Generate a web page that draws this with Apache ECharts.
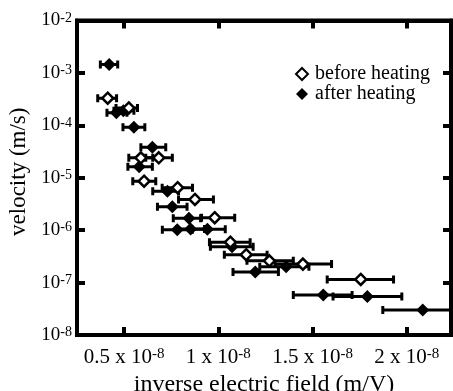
<!DOCTYPE html>
<html><head><meta charset="utf-8">
<script src="https://cdn.jsdelivr.net/npm/echarts@6/dist/echarts.min.js"></script>
<style>html,body{margin:0;padding:0;background:#fff}#c{width:453px;height:391px}</style>
</head><body><div id="c"></div>
<script>
// inverse electric field in units of 1e-8 m/V
const xTickValues = [0.5, 1, 1.5, 2];
const xTickLabels = ['0.5', '1', '1.5', '2'];
const xTickExponent = '-8';
const yTickValues = [1e-2, 1e-3, 1e-4, 1e-5, 1e-6, 1e-7, 1e-8];
const yTickExponents = ['-2', '-3', '-4', '-5', '-6', '-7', '-8'];

// before heating (open diamonds)
const beforeX   = [0.413, 0.525, 0.589, 0.684, 0.606, 0.784, 0.876, 0.981, 1.064, 1.148, 1.271, 1.449, 1.756];
const beforeV   = [3.3e-4, 2.15e-4, 2.4e-5, 2.4e-5, 8.6e-6, 6.45e-6, 3.85e-6, 1.73e-6, 5.9e-7, 3.41e-7, 2.6e-7, 2.25e-7, 1.15e-7];
const beforeXLo = [0.360, 0.457, 0.525, 0.615, 0.546, 0.702, 0.789, 0.911, 0.953, 1.032, 1.152, 1.301, 1.578];
const beforeXHi = [0.460, 0.571, 0.652, 0.756, 0.668, 0.863, 0.974, 1.087, 1.169, 1.259, 1.398, 1.601, 1.930];

// after heating (filled diamonds)
const afterX   = [0.421, 0.459, 0.496, 0.552, 0.650, 0.580, 0.730, 0.756, 0.844, 0.782, 0.853, 0.942, 1.073, 1.196, 1.360, 1.557, 1.791, 2.085];
const afterV   = [1.45e-3, 1.73e-4, 1.89e-4, 9.2e-5, 3.8e-5, 1.62e-5, 5.5e-6, 2.8e-6, 1.69e-6, 1.02e-6, 1.05e-6, 1.04e-6, 4.8e-7, 1.6e-7, 2.0e-7, 5.8e-8, 5.4e-8, 3.0e-8];
const afterXLo = [0.374, 0.409, 0.446, 0.494, 0.589, 0.520, 0.652, 0.677, 0.761, 0.703, 0.779, 0.853, 0.958, 1.078, 1.220, 1.398, 1.609, 1.873];
const afterXHi = [0.466, 0.515, 0.552, 0.610, 0.721, 0.650, 0.789, 0.834, 0.906, 0.862, 0.927, 1.037, 1.185, 1.319, 1.481, 1.710, 1.974, 2.300];

const FONT = 'Liberation Serif';
const chart = echarts.init(document.getElementById('c'), null, {renderer: 'canvas'});

function errRender(params, api) {
  const y = api.value(2);
  const p1 = api.coord([api.value(0), y]);
  const p2 = api.coord([api.value(1), y]);
  const h = 4;
  const style = {stroke: '#000', lineWidth: 3, fill: null};
  return {
    type: 'group',
    children: [
      {type: 'line', shape: {x1: p1[0], y1: p1[1], x2: p2[0], y2: p2[1]}, style: style},
      {type: 'line', shape: {x1: p1[0], y1: p1[1] - h, x2: p1[0], y2: p1[1] + h}, style: style},
      {type: 'line', shape: {x1: p2[0], y1: p2[1] - h, x2: p2[0], y2: p2[1] + h}, style: style}
    ]
  };
}

function axLine() { return {show: true, lineStyle: {color: '#000', width: 4, opacity: 1}}; }
function axTick(vals) { return {show: true, inside: true, length: 8, customValues: vals, lineStyle: {color: '#000', width: 4, opacity: 1}}; }

const option = {
  animation: false,
  backgroundColor: '#fff',
  grid: {left: 77, right: 2, top: 20.5, bottom: 56, containLabel: false, outerBoundsMode: 'none',
         show: true, borderColor: '#000', borderWidth: 4, backgroundColor: 'transparent'},
  legend: {
    orient: 'vertical', left: 290, top: 59, itemWidth: 12, itemHeight: 12, itemGap: 0,
    textStyle: {fontFamily: FONT, fontSize: 20, color: '#000', padding: [0, 0, 0, 2], lineHeight: 20},
    data: ['before heating', 'after heating']
  },
  xAxis: [{
    type: 'value', position: 'bottom', min: 0.25, max: 2.235,
    axisLine: axLine(),
    axisTick: axTick(xTickValues),
    axisLabel: {
      customValues: xTickValues, margin: 12,
      formatter: function (v) {
        const i = xTickValues.indexOf(v);
        return '{b|' + xTickLabels[i] + ' x 10}{s|' + xTickExponent + '}';
      },
      rich: {
        b: {fontFamily: FONT, fontSize: 21, color: '#000'},
        s: {fontFamily: FONT, fontSize: 15, color: '#000', verticalAlign: 'top'}
      }
    },
    splitLine: {show: false},
    name: 'inverse electric field (m/V)', nameLocation: 'middle', nameGap: 29,
    nameTextStyle: {fontFamily: FONT, fontSize: 24, color: '#000'}
  }, {
    type: 'value', position: 'top', min: 0.25, max: 2.235,
    axisLine: axLine(),
    axisTick: axTick(xTickValues),
    axisLabel: {show: false},
    splitLine: {show: false}
  }],
  yAxis: [{
    type: 'log', logBase: 10, position: 'left', min: 1e-8, max: 1e-2,
    axisLine: axLine(),
    axisTick: axTick(yTickValues),
    axisLabel: {
      customValues: yTickValues, margin: 5,
      formatter: function (v) {
        const e = Math.round(Math.log10(v));
        const i = yTickValues.findIndex(t => Math.round(Math.log10(t)) === e);
        return '{b|10}{s|' + yTickExponents[i] + '}';
      },
      rich: {
        b: {fontFamily: FONT, fontSize: 19, color: '#000'},
        s: {fontFamily: FONT, fontSize: 14, color: '#000', verticalAlign: 'top'}
      }
    },
    splitLine: {show: false},
    name: 'velocity (m/s)', nameLocation: 'middle', nameGap: 46,
    nameTextStyle: {fontFamily: FONT, fontSize: 23, color: '#000', padding: [0, 0, 0, 12]}
  }, {
    type: 'log', logBase: 10, position: 'right', min: 1e-8, max: 1e-2,
    axisLine: axLine(),
    axisTick: axTick(yTickValues),
    axisLabel: {show: false},
    splitLine: {show: false}
  }],
  series: [
    {
      type: 'custom', name: 'before err', renderItem: errRender, clip: true, z: 2,
      xAxisIndex: 0, yAxisIndex: 0,
      encode: {x: [0, 1], y: 2},
      data: beforeX.map((_, i) => [beforeXLo[i], beforeXHi[i], beforeV[i]])
    },
    {
      type: 'custom', name: 'after err', renderItem: errRender, clip: true, z: 2,
      xAxisIndex: 0, yAxisIndex: 0,
      encode: {x: [0, 1], y: 2},
      data: afterX.map((_, i) => [afterXLo[i], afterXHi[i], afterV[i]])
    },
    {
      type: 'scatter', name: 'after heating', symbol: 'diamond', symbolSize: [13, 13], z: 4,
      itemStyle: {color: '#000', opacity: 1},
      data: afterX.map((x, i) => [x, afterV[i]])
    },
    {
      type: 'scatter', name: 'before heating', symbol: 'diamond', symbolSize: [11, 11], z: 5,
      itemStyle: {color: '#fff', borderColor: '#000', borderWidth: 2.5, opacity: 1},
      data: beforeX.map((x, i) => [x, beforeV[i]])
    }
  ]
};
chart.setOption(option);
</script>
</body></html>
